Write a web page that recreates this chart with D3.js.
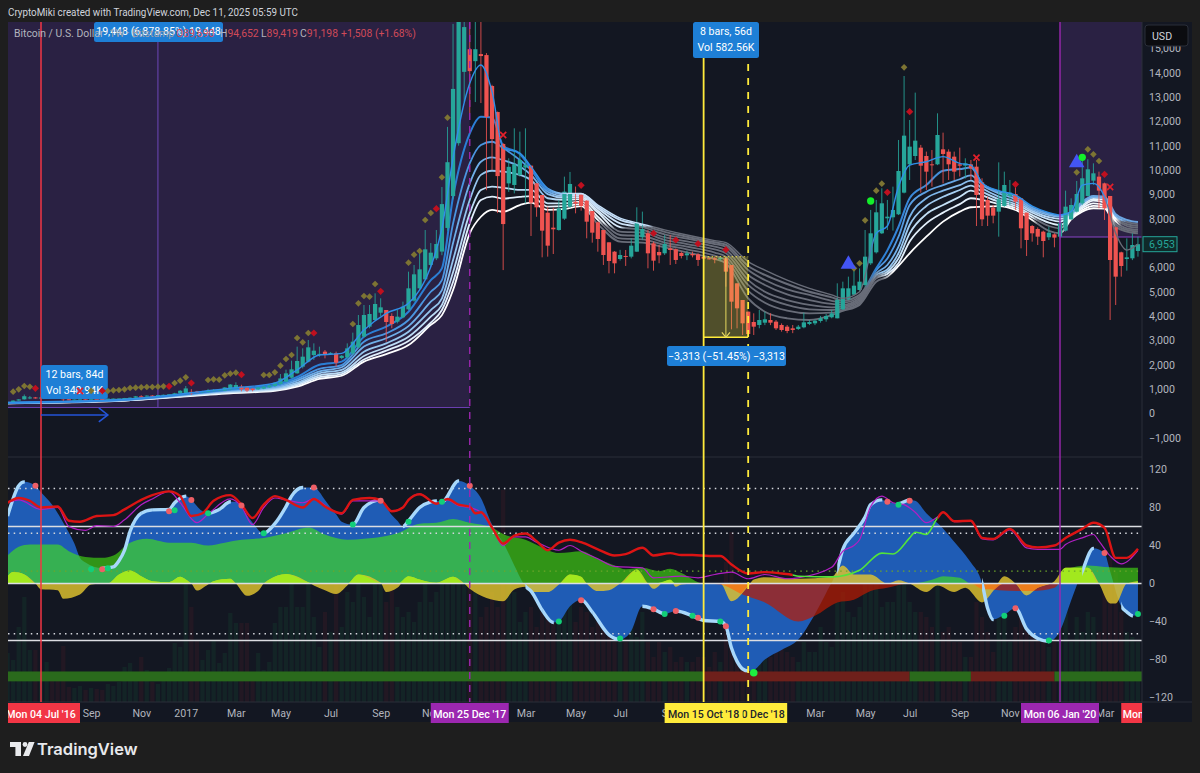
<!DOCTYPE html>
<html>
<head>
<meta charset="utf-8">
<script src="https://cdn.jsdelivr.net/npm/d3@7"></script>
<style>
html,body{margin:0;padding:0;background:#1e1e1e;}
svg{display:block;font-family:Roboto,"Noto Sans",sans-serif;}
</style>
</head>
<body>
<svg id="chart" width="1200" height="773"></svg>
<script>
// ---- weekly candles, one value per bar, starting Mon 23 May 2016 ----
const firstBar = new Date(Date.UTC(2016, 4, 23));
const barOpen = [
430,455,530,580,620,660,630,655,665,655, 625,585,570,575,580,575,610,605,600,610,
615,615,635,650,705,700,735,730,755,770, 770,830,830,890,900,870,880,920,970,940,
990,1030,1100,1060,1020,990,1020,1070,1130,1210, 1307,1470,1650,1923,2128,2400,2440,2540,2470,2470,
2280,2306,2470,2717,3155,3566,3840,4140,4250,4004, 3770,3950,4278,4634,5140,5510,6100,6372,6650,7620,
8930,11100,14030,14960,14470,14760,14720,13450,12380,11070, 9450,9385,9795,10100,10178,9453,8974,8248,7632,7537,
8002,8495,8690,8987,8741,8317,7851,7536,7030,6646, 6345,6470,6441,6646,7236,7400,6989,6633,6578,6783,
6742,6592,6496,6551,6537,6428,6373,6373,6332,6373, 6099,5346,4661,4183,3758,3635,3730,3840,3772,3635,
3566,3498,3470,3539,3676,3703,3799,3868,3950,3909, 4278,4689,4880,5072,5278,6167,6619,7400,8016,8057,
8180,9070,10233,10575,10918,10575,10233,10233,10849,10753, 10548,10233,10178,10233,10137,9494,8769,8454,8290,8522,
8933,9015,8837,8248,7700,7577,7468,7236,7358,7262, 7509,7974,8290,8632,8933,9562,9727,9453,8933,7646,
6619,6345,6373,6674];
const barHigh = [
470,540,590,780,720,680,680,680,680,665, 630,600,585,590,590,615,615,610,615,620,
625,640,660,720,750,745,755,760,775,790, 850,960,1130,1000,930,930,1010,1000,1000,1080,
1210,1280,1180,1080,1040,1090,1180,1200,1290,1620, 1800,2170,2745,2676,3018,2880,2745,2607,2520,2540,
2400,2880,3320,4045,4456,4456,4935,4730,4250,4114, 4250,4593,5825,6098,6783,7536,7000,7536,9300,11770,
16000,18000,19000,17500,17000,17000,14800,13500,12400,11100, 10480,11712,11575,11712,10178,9453,8974,8495,8453,8770,
9727,9920,9320,8987,8760,8317,7880,7536,7030,6670, 6720,6715,7195,8468,8290,7535,7060,6920,7330,7330,
6780,6646,6690,6646,6580,6490,6410,6440,6440,6400, 6099,5346,4661,4183,4114,4250,4180,4114,3840,3700,
3635,3635,3635,4140,3840,3860,4005,4085,4250,5346, 5414,5620,5960,5960,7536,8360,8770,9248,8770,9316,
11233,13861,12054,13177,11030,10755,10820,12328,11534,10850, 10755,10918,10480,10411,10411,9660,8905,8560,10315,9932,
9590,9453,8837,8248,7740,7645,7510,7673,7400,7878, 9152,8837,9550,10480,10440,10274,9932,9480,8933,7673,
6646,7193,7400,7262];
const barLow = [
420,450,520,570,590,610,610,640,650,620, 500,560,565,570,565,570,595,590,595,600,
605,610,630,640,690,690,700,725,740,760, 760,800,800,760,860,860,870,900,920,930,
960,1000,910,880,910,970,1000,1050,1110,1190, 1290,1450,1630,1850,2100,2200,2330,2265,2400,1920,
2230,2260,2400,2680,3130,3500,3810,4000,2950,3500, 3700,3910,4250,4590,5070,5480,6030,6300,6500,7500,
8800,11000,12800,12340,12790,12750,9170,10000,8230,5890, 9100,9040,9730,8630,7290,8080,6414,6441,6550,7510,
7950,8430,8220,8330,7194,7016,6646,6100,5756,5756, 6280,6060,6370,6640,7120,5962,5866,6170,6510,6100,
6140,6370,6300,6412,6060,6280,6320,6170,6275,5209, 3457,3498,3224,3156,3224,3500,3630,3630,3430,3360,
3300,3300,3430,3500,3630,3630,3730,3770,3910,3909, 4250,4660,4850,5040,5210,6100,6570,7370,7536,7510,
8150,9040,9590,10410,9070,9180,9316,10200,9450,9590, 9590,9730,9650,9590,7700,7700,7700,7810,7262,8490,
8560,8358,6783,6469,7057,6920,6414,7125,6825,7195, 7470,7950,8260,8560,8905,9385,8426,7947,3840,4456,
5620,5866,6300,6441];
const barClose = [
455,530,580,710,660,630,655,665,655,625, 585,570,575,580,575,610,605,600,610,615,
615,635,650,705,700,735,730,755,770,785, 830,935,1030,830,870,920,940,970,990,1070,
1190,1170,990,940,960,1070,1100,1150,1270,1440, 1650,1813,2156,2334,2717,2580,2450,2430,2490,2085,
2370,2676,2950,3634,4045,4086,4497,4360,3758,3675, 3977,4387,5140,5715,5920,6742,6605,6960,8600,10320,
13330,17000,15870,14060,14960,14680,12180,11270,9750,7780, 10130,10233,10411,10200,8659,8467,7509,6893,7564,8426,
9111,9426,8620,8522,7878,7427,7167,6509,6263,6167, 6510,6440,6893,7838,7577,6578,6277,6496,6961,6715,
6305,6469,6578,6496,6305,6359,6350,6318,6386,5825, 4593,4319,3703,3265,3566,3840,3868,3730,3498,3430,
3388,3430,3566,3744,3758,3813,3909,4005,4114,4661, 5141,5141,5250,5414,6441,7400,8262,8632,8084,8358,
9959,11411,10959,11205,10178,9932,10192,11438,10658,10233, 9932,10178,10274,10069,8974,7974,8125,8125,8796,9385,
9070,8700,7605,7125,7400,7262,7084,7427,7222,7810, 8495,8563,9015,9659,10028,9864,9152,8426,6304,5620,
6058,6414,6920,6953];
// Relative traded volume per bar
const barVolume = [
49,42,75,105,52,52,30,40,30,22, 56,15,14,16,12,14,13,12,18,16,
20,35,39,30,45,32,20,18,30,34, 59,55,122,95,62,42,52,62,39,49,
89,79,79,79,25,49,32,40,79,95, 95,159,95,95,150,85,55,90,70,145,
75,110,100,135,105,85,120,130,100,155, 95,85,90,80,100,130,100,110,150,135,
140,150,190,160,110,85,95,110,95,212, 130,110,80,90,95,75,90,115,100,120,
110,100,80,95,90,75,80,85,70,60, 60,60,80,65,90,60,45,60,50,55,
40,45,40,40,45,45,35,50,40,140, 170,100,110,100,90,50,55,45,50,55,
50,45,40,60,50,50,75,60,55,100, 110,90,85,95,150,120,120,95,100,100,
130,145,100,90,90,85,75,120,70,75, 60,60,45,45,100,85,70,50,110,85,
60,75,95,80,70,65,75,55,60,85, 100,60,85,70,90,85,70,110,145,130,
90,70,65,60];

// ---- moving-average ribbon, eight lines read at shared bars ----
const ribbonBars = [0,20,40,48,52,56,60,64,68,72, 76,78,80,83,85,87,89,92,94,97, 100,103,106,110,114,118,122,127,129,133, 136,140,144,148,150,153,156,158,160,162, 165,168,171,173,175,178,181,184,187,189, 191,193,195,197,199,201,203];
const ribbon1 = [450,570,1040,1250,1790,2400,2470,3430,4110,4525, 6030,7600,10500,13560,14310,13220,10900,10690,10140,9250, 9040,9040,8560,8020,7780,7540,7330,7100,7020,6240, 5890,5480,5140,4870,4730,5000,7400,7700,9320,10200, 10340,10550,10270,10200,9480,9150,8970,8520,8250,8150, 8290,9380,9450,8900,7400,6710,6960];
const ribbon2 = [445,560,1000,1180,1500,2000,2130,3150,3570,4180, 5480,5960,8900,11500,12190,12160,11000,10660,10070,9180, 9000,9010,8490,7950,7730,7460,7260,7030,6930,6060, 5690,5320,5000,4770,4630,4870,5960,6700,7670,8840, 9380,9970,10040,10100,9450,9110,8900,8450,8210,8120, 8250,8700,8930,8900,8180,7950,7860];
const ribbon3 = [440,550,970,1130,1420,1830,1990,2950,3290,3840, 5000,5480,7800,10270,11030,11160,10900,10410,10000,9110, 8930,8950,8430,7810,7650,7360,7180,6960,6850,5890, 5480,5100,4870,4630,4550,4800,5890,6370,7260,8560, 9110,9380,9620,9780,9380,9040,8800,8380,8150,8080, 8190,8630,8880,8840,8110,7870,7780];
const ribbon4 = [435,545,950,1080,1350,1730,1900,2750,3090,3590, 4590,5070,7000,9450,10340,10520,10400,10140,9800,9010, 8860,8880,8330,7650,7540,7240,7070,6850,6710,5690, 5280,4890,4660,4500,4460,4730,5760,6100,6850,8080, 8840,9150,9380,9560,9250,8910,8700,8320,8060,7990, 8150,8560,8810,8770,8060,7780,7700];
const ribbon5 = [430,540,920,1040,1270,1650,1790,2540,2880,3360, 4250,4730,6300,8770,9800,9970,9930,9800,9590,8840, 8770,8800,8250,7470,7430,7130,6960,6740,6580,5480, 5000,4660,4460,4360,4390,4660,5690,5920,6580,7740, 8520,8900,9180,9360,9110,8800,8600,8250,7970,7880, 8110,8490,8740,8660,7990,7700,7620];
const ribbon6 = [425,530,890,1000,1210,1570,1690,2360,2720,3150, 3980,4460,5800,8220,9180,9320,9270,9180,9180,8630, 8630,8700,8080,7330,7290,7020,6850,6610,6440,5280, 4800,4460,4280,4250,4320,4590,5620,5820,6370,7400, 8190,8560,8900,9150,8970,8700,8520,8150,7840,7740, 8080,8430,8630,8560,7900,7600,7540];
const ribbon7 = [420,525,860,960,1160,1490,1620,2220,2580,2980, 3730,4250,5400,7810,8770,8910,8830,8900,8930,8500, 8520,8600,7950,7190,7150,6920,6740,6480,6300,5040, 4550,4220,4110,4140,4250,4520,5550,5730,6170,7060, 7810,8250,8600,8840,8770,8600,8440,8060,7700,7600, 8030,8360,8530,8490,7780,7540,7470];
const ribbon8 = [415,520,830,930,1100,1420,1550,2130,2440,2810, 3640,4040,5070,7400,8080,8360,8290,8560,8660,8360, 8400,8520,7780,7060,7020,6820,6620,6350,6170,4730, 4180,3910,3840,4040,4210,4460,5410,5620,6060,6580, 7260,7880,8290,8470,8490,8520,8360,7950,7500,7400, 7970,8290,8430,8410,7670,7470,7400];
// Bars where each ribbon line turns grey (below the price) and recovers
const ribbonGrayFrom = [116,115,113,111,109,108,107,105];
const ribbonGrayTo   = [155,155,155,156,156,157,157,158];
const ribbonLateGray = [198,204,201,200,200,200,199,199];

// ---- signal markers on the price pane: bar, price ----
const oliveBars = [1,2,3,4,15,18,19,20,21,22,23,24,25,26,27,28,30,31,32,36,37,38,39,40,41,46,47,48,49,50,51,52,53,54,62,63,64,65,66,72,73,74,75,76,78,79,152,153,154,156,157,161,192,194,195,196];
const olivePrices = [896,992,1129,1100,930,924,951,965,992,1047,1060,1074,1088,1088,1102,1115,1252,1348,1485,1375,1403,1389,1567,1636,1677,1581,1581,1690,1964,2238,2402,3100,2922,3306,3675,4524,4825,4798,5318,6194,6523,6674,7947,8234,9700,12150,5962,6167,7933,9152,9440,14217,9905,10849,10644,10370];
const redDiamondBars = [5,17,29,33,42,55,67,77,103,116,120,124,129,158,162,181,197];
const redDiamondPrices = [1033,930,1115,1252,1595,3306,5017,8411,9371,7400,7126,6975,6729,9083,12396,9412,9822];
const crossBars = [13,89,174,198];
const crossPrices = [925,11438,10507,9302];
const triangleBars = [151,192];
const trianglePrices = [6126,10302];
const greenDotBars = [155,193];
const greenDotPrices = [8727,10521];

// ---- oscillator pane ----
const waveBars = [0,2,3,5,6,8,10,12,13,14,17,19,20,21,22,24,26,29,30,32,33,35,36,38,40,41,42,44,46,48,50,51,53,55,57,58,59,60,62,64,67,69,70,71,72,74,76,77,78,81,83,85,87,88,89,91,93,94,96,98,99,101,103,105,108,110,112,114,116,118,120,123,125,128,129,130,131,132,133,134,136,139,142,145,147,149,150,152,154,155,157,158,160,162,163,165,168,170,172,173,175,176,177,179,181,183,185,187,189,191,193,195,197,198,200,201,202,203];
const waveValues = [71,103,107,103,96,83,64,42,27,22,16,17.5,24,35,55,74,77.5,78,85,92,88,76,74,78,86,86,80,64,53,63,81,92,101,101,88,80,73,65,62,80,88,72,66,60,66,80,86,87,86,108,103,90,62,52,43,19,-3,-8,-28,-41,-40,-24,-17,-30,-54,-59,-50,-24,-27,-32,-29,-34,-39,-40,-45,-68,-82,-90,-92,-91,-80,-70,-59,-32,-10,15,36,53,70,83,88,86,84,88,87,74,58,44,30,22,0,-26,-38,-33,-26,-48,-58,-61,-50,-18,13,37,32,13,-24,-30,-34,-32];

const slowBars = [0,2,4,9,11,14,17,19,22,25,29,33,36,39,42,46,50,54,57,61,64,68,70,74,77,80,83,87,89,93,96,99,103,106,109,111,114,117,119,121,125,128,132,136,142,145,149,152,155,158,162,166,168,171,173,175,178,184,188,189,190,194,197,203];
const slowValues = [29.5,38.6,41,41,34,28,27,29.5,43,47,43,43,40,43,46,48,53,59,51.6,46,47,50,53,63,64,68,64,59,52,46,38,32,34,26,19,15,16.5,13,15.4,11,0,-1,-11.6,-20,-40,-34,-20,-17,-8,-4.5,0,4,7.7,6,0,-5.6,-7,-8,-4.5,0,15,19,17.5,16.5];

const fastBars = [0,1,3,5,6,9,10,13,15,18,20,22,24,26,29,31,32,33,34,36,37,40,41,43,45,46,47,50,54,55,57,59,61,63,67,68,70,72,74,77,80,82,83,89,91,93,94,97,99,101,103,104,106,108,110,113,115,116,118,119,120,121,124,128,130,133,134,136,142,148,150,152,155,158,160,162,165,167,170,172,175,177,179,181,183,185,188,190,194,196,198,199,201,203];
const fastValues = [7.7,12,9.5,0,-6,-7,-16,-11.6,-1,0,9.5,13.7,7.7,2.5,1.4,7,4.2,0,-7.4,-1,2.5,5,0,-13,-8,0,4.2,10,1.4,-2,-7,-11,-2,9.5,0.7,-9,-4.6,7.7,4.2,0.7,7,0,-5.6,-18.6,-6.3,-3.5,-9,-9,-1,9.5,7,0,-8,-7,0,14.7,0,-5.6,2.5,4,-3.5,-1,0,0,-18.6,-2.8,4.2,6.7,5,7,19,9.5,9.5,0,3.5,0,-9,-2,-9,-4.6,-20,-8,7.7,0,-12.6,-4.6,2.5,16.5,16.5,0,-21,-21,0,2.5];
// Stretches where the fast band shows lime instead of yellow
const limeStart = [0,162,189];
const limeEnd = [125,173,203];

const trendBars = [0,2,4,6,9,11,13,16,19,21,24,26,29,31,33,35,37,40,42,44,46,48,50,53,55,57,60,62,65,67,69,71,72,74,77,79,81,83,84,85,87,89,91,93,95,97,99,101,103,106,109,111,114,116,119,121,123,126,128,130,133,136,139,141,142,148,153,157,159,162,163,165,167,168,170,173,175,177,180,183,185,188,190,193,195,197,199,201,203];
const trendValues = [85,90,87,80,81,66,65,71,72,78,88,93,97,92,71,74,87,93,83,69,83,92,88,80,89,81,74,88,90,88,76,80,88,94,84,89,83,81,74,75,59,42,50.5,52.6,44.6,35,43,46,43.5,36,29.5,31,37.6,29.5,32,30,30,29,29,20,10.5,12,10.5,9,7.7,7,14,32,31,48,54,51.6,69,75,65.6,66,48,47,57.5,40,38,40,48,57.5,64,58.6,27,27,36.5];
// The trend line runs green between these bars, red elsewhere
const trendGreenStart = 141;
const trendGreenEnd = 167;

const signalBars = [0,2,6,9,11,14,16,19,21,24,26,29,31,34,36,40,42,44,46,48,50,53,55,58,60,62,67,69,71,72,74,77,79,81,83,85,87,89,91,93,95,99,101,103,106,109,114,116,121,124,127,130,133,136,140,142,148,150,152,153,155,157,159,161,163,165,167,168,170,173,175,177,180,183,185,189,190,193,195,196,198,200,203];
const signalValues = [85,88,78,80,60,56,61,60,67,83,89,97,85,64,73,89,81,62,80,90,88,85,89,78,73,87,87,76,80,88,94,84,88,82,80,75,59,40,49,49,43.5,35,40,34,26,18,16.5,6,7.7,6,9.5,12,5,9.5,5,6,17,34,40,46,81,92,85,83,75,64,70,75,65,65.5,47,46,56.5,37.5,36,36,41,48,51.6,44.6,29,20.7,35];

const sellDotBars = [5,17,29,33,42,55,67,83,103,116,120,124,129,158,162,181,197];
const sellDotValues = [103,15,76,88,82,101,87,103,-17.5,-27,-29,-36,-45,86,87,-26,32];
const buyDotBars = [15,18,30,36,46,62,72,78,99,110,118,123,128,160,179,187,203];
const buyDotValues = [15,16,77,74,53,62,65,86,-40,-58,-32,-34,-40,83,-34,-60,-32];
const stripStarts = [0,125,162,173,188];
const stripEnds = [125,162,173,188,204];
const stripKinds = ["bull","bear","bull","bear","bull"];

// ---- axes and annotation text ----
const priceTicks = [15000,14000,13000,12000,11000,10000,9000,8000,7000,6000,5000,4000,3000,2000,1000,0,-1000];
const oscTicks = [120,80,40,0,-40,-80,-120];
const monthTicks = ["2016-09-05","2016-11-07","2017-01-02","2017-03-06","2017-05-01","2017-07-03","2017-09-04","2017-11-06","2018-03-05","2018-05-07","2018-07-02","2018-09-03","2019-03-04","2019-05-06","2019-07-01","2019-09-02","2019-11-04","2020-03-02"];
const solidLevels = [60,0,-60];
const dottedLevels = [100,53,-53];
const minorLevel = 13;
const lastPrice = 6953;
const COL = {frame:"#1e1e1e",pane:"#131722",band:"#2a2143",grid:"#2a2e39",text:"#b2b5be",up:"#26a69a",down:"#ef5350",
  tip:"#1e7fd6",red:"#f23645",magenta:"#9c27b0",yellow:"#ffeb3b",grey:"#686c78"};
const ribbonTints = ["#2f8fe8","#2a7fd6","#4a95e0","#6eaee8","#95c5ee","#bcdcf5","#e0eefb","#ffffff"];

// ---- scales ----
const W = 1200, H = 773;
const pane = {l:8, r:1142, t:22, mid:457, b:702, axisR:1192};
const barDate = i => d3.utcDay.offset(firstBar, i * 7);
const xTime = d3.scaleUtc().domain([new Date(Date.UTC(2016,6,4)), new Date(Date.UTC(2020,0,6))]).range([41,1060]);
const xBar = i => xTime(barDate(i));
const yPrice = d3.scaleLinear().domain([0,14000]).range([413.5,72.6]);
const yOsc = d3.scaleLinear().domain([120,-120]).range([469.5,697.5]);
const bars = d3.range(barOpen.length);
const barStep = xBar(1) - xBar(0);

const svg = d3.select("#chart");
const defs = svg.append("defs");
defs.append("clipPath").attr("id","clipMain").append("rect").attr("x",pane.l).attr("y",pane.t).attr("width",pane.r-pane.l).attr("height",pane.mid-pane.t);
defs.append("clipPath").attr("id","clipOsc").append("rect").attr("x",pane.l).attr("y",pane.mid+1).attr("width",pane.r-pane.l).attr("height",pane.b-pane.mid-1);

// ---- frame and panes ----
svg.append("rect").attr("width",W).attr("height",H).attr("fill",COL.frame);
svg.append("rect").attr("x",pane.l).attr("y",pane.t).attr("width",pane.axisR-pane.l).attr("height",722-pane.t).attr("fill",COL.pane);
svg.append("text").attr("x",8).attr("y",16).attr("fill","#d1d4dc").attr("font-size",10.6)
  .attr("textLength",290).attr("lengthAdjust","spacingAndGlyphs").text("CryptoMiki created with TradingView.com, Dec 11, 2025 05:59 UTC");

const main = svg.append("g").attr("clip-path","url(#clipMain)");
const osc = svg.append("g").attr("clip-path","url(#clipOsc)");

// Highlighted date ranges
const bandBottom1 = 407.5, bandBottom2 = 237;
const bandA = [xTime(new Date(Date.UTC(2016,4,1))), xBar(83)];
const bandB = [xBar(189), pane.r];
main.append("rect").attr("x",bandA[0]).attr("y",pane.t).attr("width",bandA[1]-bandA[0]).attr("height",bandBottom1-pane.t).attr("fill",COL.band);
main.append("rect").attr("x",bandB[0]).attr("y",pane.t).attr("width",bandB[1]-bandB[0]).attr("height",bandBottom2-pane.t).attr("fill",COL.band);
main.append("line").attr("x1",bandA[0]).attr("x2",bandA[1]).attr("y1",bandBottom1).attr("y2",bandBottom1).attr("stroke","#6a3fb0").attr("stroke-width",1.2);
main.append("line").attr("x1",bandB[0]).attr("x2",bandB[1]).attr("y1",bandBottom2).attr("y2",bandBottom2).attr("stroke","#8a45c8").attr("stroke-width",1.2);
main.append("line").attr("x1",xBar(27)).attr("x2",xBar(27)).attr("y1",pane.t).attr("y2",bandBottom1).attr("stroke","#6d46b8").attr("stroke-width",1);

// Pane separators
[[pane.l,pane.r,pane.mid,pane.mid],[pane.l,pane.axisR,pane.b,pane.b],[pane.r,pane.r,pane.t,722]].forEach(d=>{
  svg.append("line").attr("x1",d[0]).attr("x2",d[1]).attr("y1",d[2]).attr("y2",d[3]).attr("stroke",COL.grid);
});

// ---- ribbon ----
const ribbonSeries = [ribbon1,ribbon2,ribbon3,ribbon4,ribbon5,ribbon6,ribbon7,ribbon8];
const x0 = xBar(0), x1 = xBar(barOpen.length);
const frac = i => (xBar(i)-x0)/(x1-x0);
ribbonSeries.forEach((series,k)=>{
  const g = defs.append("linearGradient").attr("id","rib"+k).attr("gradientUnits","userSpaceOnUse")
    .attr("x1",x0).attr("x2",x1).attr("y1",0).attr("y2",0);
  const tint = ribbonTints[k], pale = k===7 ? "#ffffff" : d3.interpolateRgb(tint,"#ffffff")(0.72);
  const soft = d3.interpolateRgb(tint,"#ffffff")(k===0 ? 0 : 0.3);
  const stops = [[0,tint],[96,tint],[101,pale],[ribbonGrayFrom[k]-1,pale],[ribbonGrayFrom[k],COL.grey],
    [ribbonGrayTo[k]-1,COL.grey],[ribbonGrayTo[k]+1,tint],[182,soft]];
  if (k>=6) stops.push([184,soft],[185,COL.grey],[189,COL.grey],[190,"#ffffff"]);
  stops.push([ribbonLateGray[k]-1,k<3?soft:"#ffffff"],[ribbonLateGray[k],k===1?"#ffffff":COL.grey],[204,k===1?"#e6f1fb":COL.grey]);
  g.selectAll("stop").data(stops).join("stop").attr("offset",d=>Math.min(1,frac(d[0]))).attr("stop-color",d=>d[1]);
});
const ribbonLine = s => d3.line().x((d,j)=>xBar(ribbonBars[j])).y(d=>yPrice(d)).curve(d3.curveMonotoneX)(s);
d3.range(7,0,-1).forEach(k=>{
  main.append("path").attr("d",ribbonLine(ribbonSeries[k])).attr("fill","none")
    .attr("stroke",`url(#rib${k})`).attr("stroke-width",k===1?2:1.8).attr("stroke-linejoin","round");
});

// ---- candles ----
const candles = main.append("g");
candles.selectAll("line").data(bars).join("line")
  .attr("x1",i=>xBar(i)).attr("x2",i=>xBar(i))
  .attr("y1",i=>yPrice(barHigh[i])).attr("y2",i=>yPrice(barLow[i]))
  .attr("stroke",i=>barClose[i]>=barOpen[i]?COL.up:COL.down).attr("stroke-width",1).attr("opacity",.85);
candles.selectAll("rect").data(bars).join("rect")
  .attr("x",i=>xBar(i)-barStep*0.38).attr("width",barStep*0.76)
  .attr("y",i=>yPrice(Math.max(barOpen[i],barClose[i])))
  .attr("height",i=>Math.max(1,yPrice(Math.min(barOpen[i],barClose[i]))-yPrice(Math.max(barOpen[i],barClose[i]))))
  .attr("fill",i=>barClose[i]>=barOpen[i]?COL.up:COL.down);
main.append("path").attr("d",ribbonLine(ribbon1)).attr("fill","none").attr("stroke","url(#rib0)").attr("stroke-width",1.4);

// ---- oscillator pane ----
osc.append("g").selectAll("rect").data(bars).join("rect")
  .attr("x",i=>xBar(i)-barStep*0.38).attr("width",barStep*0.76)
  .attr("y",i=>pane.b-barVolume[i]).attr("height",i=>barVolume[i])
  .attr("fill",i=>barClose[i]>=barOpen[i]?"rgba(30,150,70,.11)":"rgba(160,35,45,.11)");

const areaOf = (barsIn,fn) => d3.area().x((d,j)=>xBar(barsIn[j])).y0(yOsc(0)).y1(d=>yOsc(fn(d))).curve(d3.curveMonotoneX);
const lineOf = (barsIn) => d3.line().x((d,j)=>xBar(barsIn[j])).y(d=>yOsc(d)).curve(d3.curveMonotoneX);
const waveArea = areaOf(waveBars,d=>d)(waveValues);
const slowPos = areaOf(slowBars,d=>Math.max(d,0))(slowValues);
const slowNeg = areaOf(slowBars,d=>Math.min(d,0))(slowValues);
const fastAll = areaOf(fastBars,d=>d)(fastValues);
const fastPos = areaOf(fastBars,d=>Math.max(d,0))(fastValues);
const fastNeg = areaOf(fastBars,d=>Math.min(d,0))(fastValues);

osc.append("path").attr("d",waveArea).attr("fill","#1f5cb5");
osc.append("path").attr("d",slowPos).attr("fill","rgb(70,232,16)").attr("opacity",.6);
osc.append("path").attr("d",slowNeg).attr("fill","rgb(187,27,1)").attr("opacity",.7);
osc.append("path").attr("d",fastAll).attr("fill","#e2c52e").attr("opacity",.82);

defs.append("clipPath").attr("id","clipLime").selectAll("rect").data(limeStart).join("rect")
  .attr("x",(d)=>xBar(d)).attr("y",pane.mid).attr("height",pane.b-pane.mid)
  .attr("width",(d,j)=>xBar(limeEnd[j])-xBar(d));
osc.append("path").attr("d",fastPos).attr("fill","#a0ea1e").attr("opacity",.95).attr("clip-path","url(#clipLime)");
defs.append("clipPath").attr("id","clipSlowNeg").append("path").attr("d",slowNeg);
osc.append("path").attr("d",fastNeg).attr("fill","#ee7a1a").attr("opacity",.95).attr("clip-path","url(#clipSlowNeg)");

// Reference levels
solidLevels.forEach(v=>{
  osc.append("line").attr("x1",pane.l).attr("x2",pane.r).attr("y1",yOsc(v)).attr("y2",yOsc(v)).attr("stroke","#dcdde2").attr("stroke-width",1.6);
});
dottedLevels.forEach(v=>{
  osc.append("line").attr("x1",pane.l).attr("x2",pane.r).attr("y1",yOsc(v)).attr("y2",yOsc(v)).attr("stroke","#d4d6dc").attr("stroke-width",1.5).attr("stroke-dasharray","1.5 4.2");
});
osc.append("line").attr("x1",pane.l).attr("x2",pane.r).attr("y1",yOsc(minorLevel)).attr("y2",yOsc(minorLevel)).attr("stroke","#6da52a").attr("stroke-width",1.2).attr("stroke-dasharray","1.5 4.2");

// Bull / bear state strip
osc.append("g").selectAll("rect").data(stripStarts).join("rect")
  .attr("x",d=>xBar(d)).attr("width",(d,j)=>xBar(stripEnds[j])-xBar(d))
  .attr("y",yOsc(-92.6)).attr("height",yOsc(-103)-yOsc(-92.6))
  .attr("fill",(d,j)=>stripKinds[j]==="bull"?"#2a6a1c":"#6e201b");

// Wave outline: pale where it moves away from zero
const awaySegments = d3.range(waveBars.length-1).filter(j=>
  (waveValues[j+1]>waveValues[j] && waveValues[j]>=-1) || (waveValues[j+1]<waveValues[j] && waveValues[j]<=1));
defs.append("clipPath").attr("id","clipAway").selectAll("rect").data(awaySegments).join("rect")
  .attr("x",j=>xBar(waveBars[j])).attr("width",j=>xBar(waveBars[j+1])-xBar(waveBars[j])+.5)
  .attr("y",pane.mid).attr("height",pane.b-pane.mid);
osc.append("path").attr("d",lineOf(waveBars)(waveValues)).attr("fill","none").attr("stroke","#a8d8fb").attr("stroke-width",3.4).attr("clip-path","url(#clipAway)");

// Signal and trend lines
osc.append("path").attr("d",lineOf(signalBars)(signalValues)).attr("fill","none").attr("stroke","#b11fc4").attr("stroke-width",1.2);
const trendPath = lineOf(trendBars)(trendValues);
defs.append("clipPath").attr("id","clipTrendGreen").append("rect").attr("x",xBar(trendGreenStart)).attr("width",xBar(trendGreenEnd)-xBar(trendGreenStart)).attr("y",pane.mid).attr("height",pane.b-pane.mid);
const redPart = defs.append("clipPath").attr("id","clipTrendRed");
redPart.append("rect").attr("x",pane.l).attr("width",xBar(trendGreenStart)-pane.l).attr("y",pane.mid).attr("height",pane.b-pane.mid);
redPart.append("rect").attr("x",xBar(trendGreenEnd)).attr("width",pane.r-xBar(trendGreenEnd)).attr("y",pane.mid).attr("height",pane.b-pane.mid);
osc.append("path").attr("d",trendPath).attr("fill","none").attr("stroke","#dc1414").attr("stroke-width",2.4).attr("clip-path","url(#clipTrendRed)");
osc.append("path").attr("d",trendPath).attr("fill","none").attr("stroke","#52e43a").attr("stroke-width",1.6).attr("clip-path","url(#clipTrendGreen)");

// Oscillator dots
const dot = (g,bar,val,fill,r) => g.append("circle").attr("cx",xBar(bar)).attr("cy",yOsc(val)).attr("r",r).attr("fill",fill);
sellDotBars.forEach((b,j)=>dot(osc,b,sellDotValues[j],"#ee5f66",3));
buyDotBars.forEach((b,j)=>dot(osc,b,buyDotValues[j],"#12cf78",3));
dot(osc,134,-94,"#1df040",3.8);

// ---- measuring tool, range shading ----
main.append("rect").attr("x",xBar(125)).attr("width",xBar(133)-xBar(125))
  .attr("y",yPrice(6441)).attr("height",yPrice(3130)-yPrice(6441)).attr("fill","rgba(240,225,70,.28)");
main.append("line").attr("x1",xBar(125)).attr("x2",xBar(133)).attr("y1",yPrice(3130)).attr("y2",yPrice(3130)).attr("stroke",COL.yellow).attr("stroke-width",1.4);
main.append("line").attr("x1",xBar(125)).attr("x2",xBar(133)).attr("y1",yPrice(6441)).attr("y2",yPrice(6441)).attr("stroke",COL.yellow).attr("stroke-width",1.2).attr("stroke-dasharray","1.5 2.5").attr("opacity",.7);
const arrowX = xBar(129);
main.append("line").attr("x1",arrowX).attr("x2",arrowX).attr("y1",yPrice(6441)).attr("y2",yPrice(3130)).attr("stroke","#e6d860").attr("stroke-width",1);
main.append("path").attr("d",`M${arrowX-4},${yPrice(3130)-5}L${arrowX},${yPrice(3130)}L${arrowX+4},${yPrice(3130)-5}`).attr("fill","none").attr("stroke","#e6d860").attr("stroke-width",1.2);

// Event markers spanning both panes
const eventLines = [
  {bar:6,color:COL.red,dash:null,w:1.5},
  {bar:83,color:COL.magenta,dash:"7 6",w:1.4},
  {bar:125,color:COL.yellow,dash:null,w:1.8},
  {bar:133,color:COL.yellow,dash:"7 7",w:1.8},
  {bar:189,color:COL.magenta,dash:null,w:1.4}];
eventLines.forEach(e=>{
  svg.append("line").attr("x1",xBar(e.bar)).attr("x2",xBar(e.bar)).attr("y1",pane.t).attr("y2",pane.b)
    .attr("stroke",e.color).attr("stroke-width",e.w).attr("stroke-dasharray",e.dash);
});

// Horizontal measure arrow
const overlay = svg.append("g");
const arrowY = yPrice(-60);
overlay.append("line").attr("x1",xBar(6)).attr("x2",xBar(18)).attr("y1",arrowY).attr("y2",arrowY).attr("stroke","#2455d8").attr("stroke-width",1.6);
overlay.append("path").attr("d",`M${xBar(18)-9},${arrowY-7}L${xBar(18)},${arrowY}L${xBar(18)-9},${arrowY+7}`).attr("fill","none").attr("stroke","#2455d8").attr("stroke-width",1.6);

// Measure labels
const tipBox = (x,y,w,h) => overlay.append("rect").attr("x",x).attr("y",y).attr("width",w).attr("height",h).attr("rx",2.5).attr("fill",COL.tip);
const tipText = (x,y,t,anchor="middle") => overlay.append("text").attr("x",x).attr("y",y).attr("fill","#ffffff").attr("font-size",10.6).attr("text-anchor",anchor).text(t);
tipBox(94,22,129,20);
tipBox(xBar(6),365,xBar(18)-xBar(6),34);
tipText((xBar(6)+xBar(18))/2,378,"12 bars, 84d");
tipText((xBar(6)+xBar(18))/2,394,"Vol 340.94K");
tipBox(693,22,66,36);
tipText(726,35,"8 bars, 56d");
tipText(726,51,"Vol 582.56K");
tipBox(667,346,119,20);
tipText(726.5,360,"\u22123,313 (\u221251.45%) \u22123,313");
tipText(158.5,35,"19,448 (6,878.85%) 19,448");

// Chart legend
const legend = svg.append("text").attr("y",37).attr("font-size",10.4);
[["Bitcoin / U.S. Dollar",14,"#b2b5be"],["\u00b7 1W \u00b7 Bitstamp",104,"#9ea1ab"],["O89,690",176,"#d04a58"]].forEach(d=>{
  legend.append("tspan").attr("x",d[1]).attr("fill",d[2]).text(d[0]);
});
[["H","94,652",220],["L","89,419",261],["C","91,198",300]].forEach(d=>{
  legend.append("tspan").attr("x",d[2]).attr("fill","#b2b5be").text(d[0]);
  legend.append("tspan").attr("fill","#d04a58").text(d[1]);
});
legend.append("tspan").attr("x",341).attr("fill","#d04a58").text("+1,508 (+1.68%)");

// ---- price-pane markers, drawn over the labels ----
const marks = svg.append("g").attr("clip-path","url(#clipMain)");
const placeSymbol = (type,size,bar,price,fill,rot=0) => marks.append("path")
  .attr("d",d3.symbol().type(type).size(size)())
  .attr("transform",`translate(${xBar(bar)},${yPrice(price)}) rotate(${rot})`).attr("fill",fill);
oliveBars.forEach((b,j)=>placeSymbol(d3.symbolSquare,22,b,olivePrices[j],"#7d7433",45));
redDiamondBars.forEach((b,j)=>placeSymbol(d3.symbolSquare,26,b,redDiamondPrices[j],"#bf101f",45));
crossBars.forEach((b,j)=>{
  marks.append("path").attr("d",d3.symbol().type(d3.symbolTimes).size(26)())
    .attr("transform",`translate(${xBar(b)},${yPrice(crossPrices[j])})`).attr("fill","none").attr("stroke","#e3202b").attr("stroke-width",1.7);
});
triangleBars.forEach((b,j)=>placeSymbol(d3.symbolTriangle,105,b,trianglePrices[j],"#4355f5"));
greenDotBars.forEach((b,j)=>placeSymbol(d3.symbolCircle,42,b,greenDotPrices[j],"#13ee2a"));

// ---- axes ----
const axisStyle = g => {
  g.select(".domain").remove();
  g.selectAll(".tick line").remove();
  g.selectAll("text").attr("fill",COL.text).attr("font-size",10.6).attr("font-family","Roboto,'Noto Sans',sans-serif");
};
svg.append("g").attr("transform",`translate(${pane.r},0)`)
  .call(d3.axisRight(yPrice).tickValues(priceTicks).tickFormat(d3.format(",")).tickSize(0).tickPadding(7)).call(axisStyle);
svg.append("g").attr("transform",`translate(${pane.r},0)`)
  .call(d3.axisRight(yOsc).tickValues(oscTicks).tickFormat(d3.format("d")).tickSize(0).tickPadding(7)).call(axisStyle);
const monthDates = monthTicks.map(d=>new Date(d+"T00:00:00Z"));
const monthFmt = d3.utcFormat("%b"), yearFmt = d3.utcFormat("%Y");
svg.append("g").attr("transform",`translate(0,${pane.b})`)
  .call(d3.axisBottom(xTime).tickValues(monthDates).tickFormat(d=>d.getUTCMonth()===0?yearFmt(d):monthFmt(d)).tickSize(0).tickPadding(7))
  .call(axisStyle);

// Date flags on the time axis
const flagFmt = d3.utcFormat("%a %d %b '%y");
const flags = svg.append("g");
defs.append("clipPath").attr("id","clipFlags").append("rect").attr("x",pane.l).attr("y",pane.b).attr("width",pane.r-pane.l).attr("height",22);
flags.attr("clip-path","url(#clipFlags)");
const flagDates = [
  {bar:207,bg:COL.red,fg:"#ffffff"},
  {bar:6,bg:COL.red,fg:"#ffffff"},
  {bar:83,bg:COL.magenta,fg:"#ffffff"},
  {bar:133,bg:COL.yellow,fg:"#20232b"},
  {bar:125,bg:COL.yellow,fg:"#20232b"},
  {bar:189,bg:COL.magenta,fg:"#ffffff"}];
flagDates.forEach(f=>{
  const cx = xBar(f.bar);
  flags.append("rect").attr("x",cx-39).attr("width",78).attr("y",pane.b+1).attr("height",20).attr("fill",f.bg);
  flags.append("text").attr("x",cx).attr("y",pane.b+16).attr("text-anchor","middle").attr("fill",f.fg).attr("font-size",10.6).attr("font-weight",500).text(flagFmt(barDate(f.bar)));
});

// Currency button and last-price tag
svg.append("rect").attr("x",1145).attr("y",25).attr("width",43).attr("height",21).attr("rx",3).attr("fill","#0b0c10").attr("stroke","#2a2e39");
svg.append("text").attr("x",1152).attr("y",40).attr("fill","#d1d4dc").attr("font-size",10.6).text("USD");
const tagY = yPrice(lastPrice);
svg.append("rect").attr("x",1143).attr("y",tagY-7.5).attr("width",34).attr("height",15).attr("fill","#0f2a2a").attr("stroke",COL.up);
svg.append("text").attr("x",1149).attr("y",tagY+4).attr("fill",COL.up).attr("font-size",10.6).text(d3.format(",")(lastPrice));

// TradingView mark in the footer
const logo = svg.append("g").attr("fill","#e8e9ec");
logo.append("path").attr("d","M10 742h11v14h-5.6v-9H10z");
logo.append("circle").attr("cx",25).attr("cy",744.5).attr("r",2.4);
logo.append("path").attr("d","M28.8 742h5.8l-5.6 14h-6z");
svg.append("text").attr("x",37).attr("y",755).attr("fill","#e8e9ec").attr("font-family","Inter,Roboto,sans-serif").attr("font-weight",600).attr("font-size",16.5).text("TradingView");
</script>
</body>
</html>
